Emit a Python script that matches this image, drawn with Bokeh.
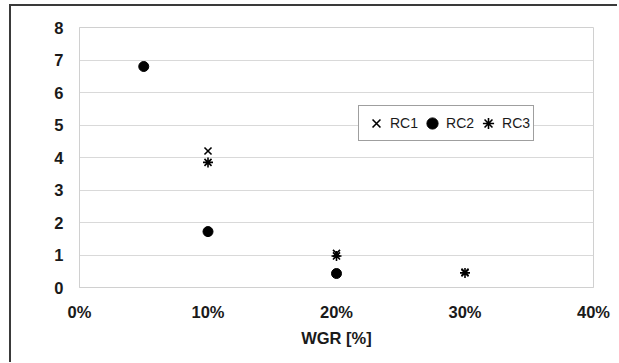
from bokeh.plotting import figure
from bokeh.models import Range1d, NumeralTickFormatter, Legend, LegendItem, Label, FixedTicker
from bokeh.embed import file_html
from bokeh.resources import INLINE

# data
rc1_x = [0.10, 0.20, 0.30]
rc1_y = [4.20, 1.05, 0.47]
rc2_x = [0.05, 0.10, 0.20]
rc2_y = [6.80, 1.72, 0.43]
rc3_x = [0.10, 0.20, 0.30]
rc3_y = [3.85, 0.97, 0.45]
x_ticks = [0.0, 0.1, 0.2, 0.3, 0.4]
y_ticks = [0, 1, 2, 3, 4, 5, 6, 7, 8]

p = figure(width=608, height=358, output_backend="svg", toolbar_location=None,
           x_range=Range1d(0, 0.4), y_range=Range1d(0, 8),
           min_border_left=68, min_border_top=21, min_border_right=26, min_border_bottom=77)
p.styles = {"margin-left": "9px", "margin-top": "4px",
            "border-left": "2px solid #3a3a3a", "border-top": "2px solid #3a3a3a"}
p.background_fill_color = "white"
p.border_fill_color = "white"
p.outline_line_color = "#d0d0d0"
p.outline_line_width = 1

p.xgrid.grid_line_color = None
p.ygrid.grid_line_color = "#d9d9d9"
p.ygrid.grid_line_width = 1

p.xaxis.ticker = FixedTicker(ticks=x_ticks)
p.yaxis.ticker = FixedTicker(ticks=y_ticks)
p.xaxis.formatter = NumeralTickFormatter(format="0%")
for ax in (p.xaxis, p.yaxis):
    ax.axis_line_color = "#d0d0d0"
    ax.major_tick_line_color = None
    ax.minor_tick_line_color = None
    ax.major_tick_out = 0
    ax.major_tick_in = 0
    ax.major_label_text_font = "Liberation Sans"
    ax.major_label_text_font_style = "bold"
    ax.major_label_text_font_size = "16.5px"
    ax.major_label_text_color = "#1a1a1a"
p.xaxis.major_label_standoff = 15
p.yaxis.major_label_standoff = 16
p.xaxis.axis_label = "WGR [%]"
p.xaxis.axis_label_standoff = 5
p.xaxis.axis_label_text_font = "Liberation Sans"
p.xaxis.axis_label_text_font_style = "bold"
p.xaxis.axis_label_text_font_size = "16.5px"
p.xaxis.axis_label_text_color = "#1a1a1a"

p.add_layout(Label(x=-0.03, y=4, text="r", text_align="center", text_baseline="middle",
                   text_font="Liberation Sans", text_font_style="bold",
                   text_font_size="16.5px", text_color="#1a1a1a"))

r1 = p.scatter(rc1_x, rc1_y, marker="x", size=10, line_color="black", line_width=1.6)
r2 = p.scatter(rc2_x, rc2_y, marker="circle", size=10, fill_color="black", line_color="black")
r3 = p.scatter(rc3_x, rc3_y, marker="asterisk", size=10, line_color="black", line_width=1.6)

legend = Legend(items=[LegendItem(label="RC1", renderers=[r1]),
                       LegendItem(label="RC2", renderers=[r2]),
                       LegendItem(label="RC3", renderers=[r3])],
                orientation="horizontal", location=(279, 146),
                label_text_font="Liberation Sans", label_text_font_size="14px",
                label_text_color="#1a1a1a",
                glyph_width=28, glyph_height=28, label_height=28, label_standoff=-3,
                spacing=-1, padding=3, margin=0,
                border_line_color="#404040", border_line_width=1,
                background_fill_color="white", background_fill_alpha=1)
p.add_layout(legend)

open("out.html", "w").write(file_html(p, INLINE))
